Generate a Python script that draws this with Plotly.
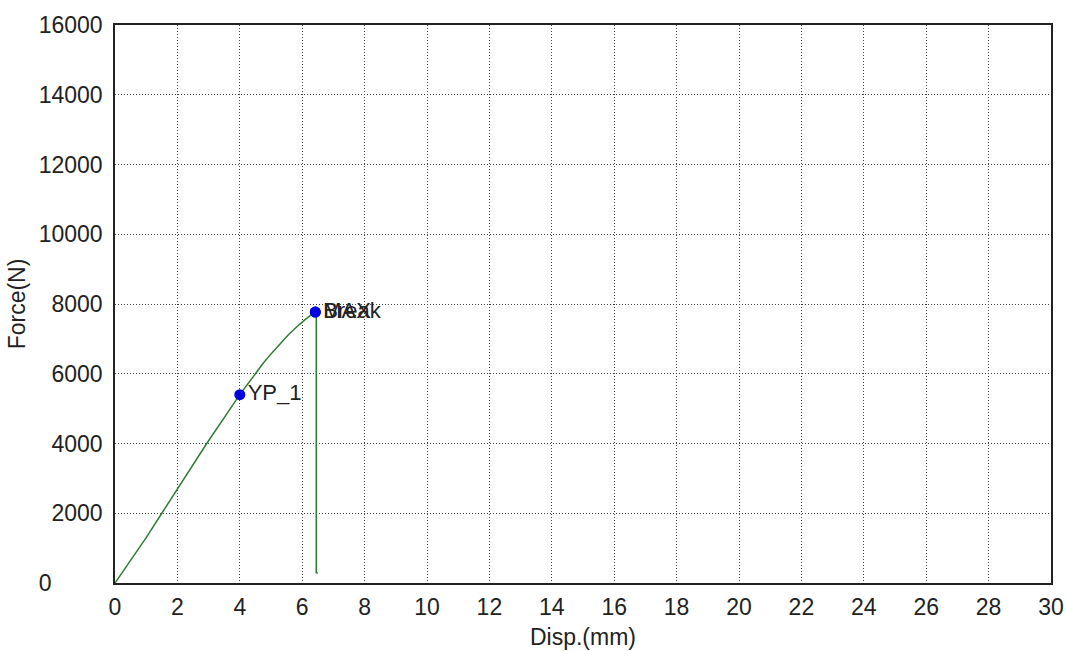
import plotly.graph_objects as go

# force-displacement curve
disp = [0.0, 1.0, 1.5, 2.94, 4.0, 4.25, 4.5, 4.75, 5.0, 5.3, 5.55, 5.82, 6.1, 6.42, 6.45, 6.45, 6.5]
force = [0, 1300, 2000, 4000, 5400, 5710, 6020, 6300, 6570, 6870, 7110, 7340, 7560, 7770, 7700, 300, 280]

# marked points
pt_names = ["YP_1", "MAX", "Break"]
pt_disp = [4.0, 6.42, 6.42]
pt_force = [5400, 7770, 7770]

x_ticks = list(range(0, 31, 2))
y_ticks = list(range(0, 16001, 2000))
y_text = ["0\u2007\u2007\u2007\u2007"] + [str(v) for v in y_ticks[1:]]

FONT = "Liberation Sans, Arial, sans-serif"
TXT = "#222222"

fig = go.Figure()
fig.add_trace(go.Scatter(x=disp, y=force, mode="lines",
                         line=dict(color="#2f7d32", width=1.5)))
fig.add_trace(go.Scatter(x=pt_disp, y=pt_force, mode="markers+text",
                         text=pt_names, textposition="middle right",
                         textfont=dict(size=22, color=TXT, family=FONT),
                         marker=dict(color="#0000e0", size=11)))

axis_style = dict(showline=True, linecolor=TXT, linewidth=1.5, mirror=True,
                  showgrid=True, gridcolor="#444444", griddash="1px,2px", gridwidth=1,
                  zeroline=False, ticks="", automargin=False,
                  tickfont=dict(size=23, color=TXT, family=FONT),
                  title_font=dict(size=23, color=TXT, family=FONT))

fig.update_xaxes(range=[0, 30], tickvals=x_ticks, title_text="Disp.(mm)",
                 title_standoff=10, ticklabelstandoff=3, **axis_style)
fig.update_yaxes(range=[0, 16000], tickvals=y_ticks, ticktext=y_text,
                 title_text="Force(N)", title_standoff=7, ticklabelstandoff=6, **axis_style)

fig.update_layout(width=1067, height=651, showlegend=False,
                  plot_bgcolor="white", paper_bgcolor="white",
                  margin=dict(l=115, r=16, t=25, b=68),
                  font=dict(family=FONT))

# drop the default page margin so the figure fills the window without scrollbars
fig.write_html("out.html", config={"displayModeBar": False},
               post_script="document.body.style.margin='0';document.body.style.overflow='hidden';")
